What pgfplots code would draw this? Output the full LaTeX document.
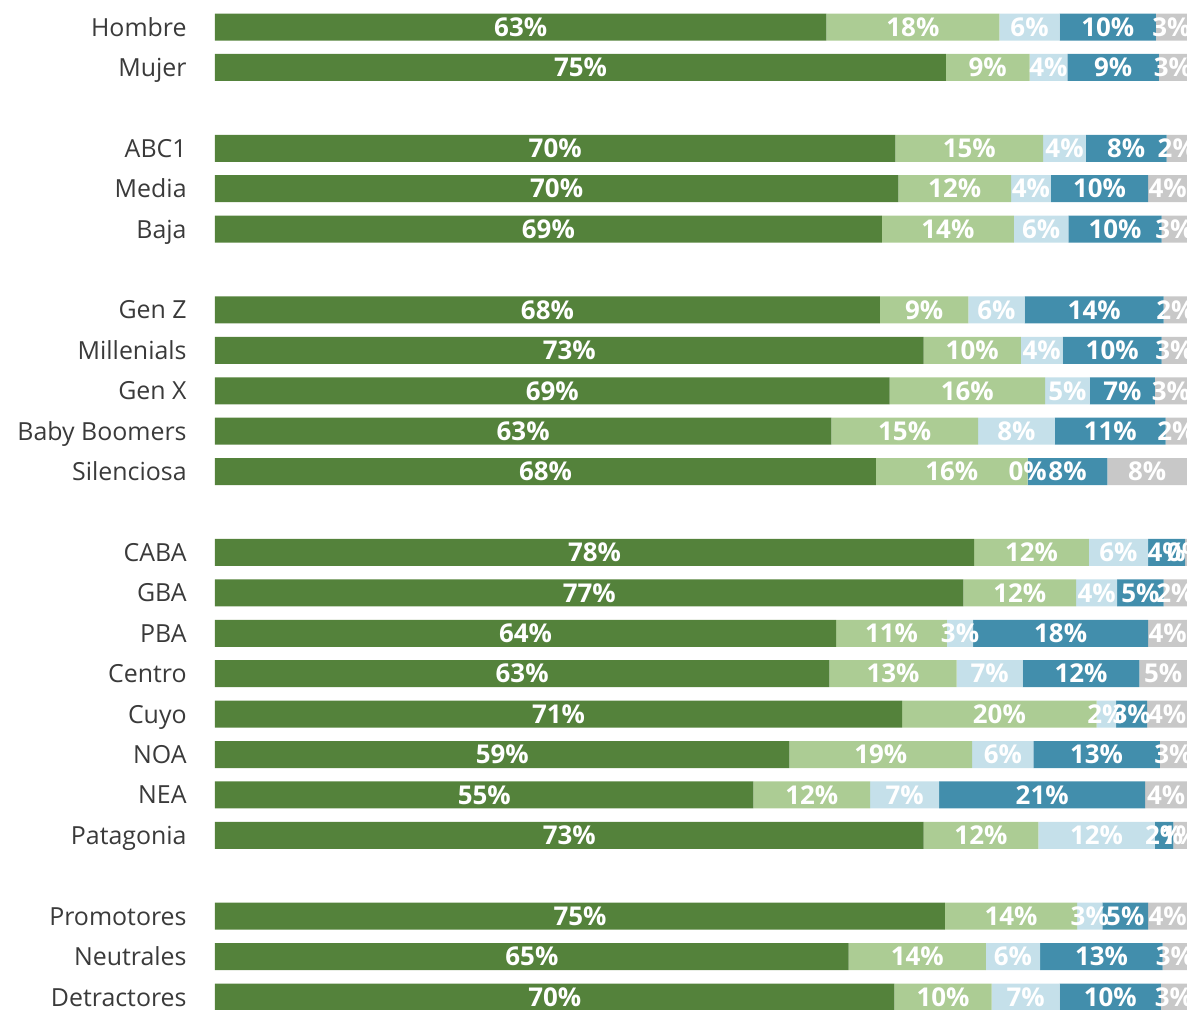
\documentclass[border=0pt]{standalone}
\usepackage{pgfplots}
\pgfplotsset{compat=1.18}
\usepackage{pgfplotstable}
\usepackage{fontspec}
\setmainfont{Open Sans}
\definecolor{cA}{RGB}{84,130,59}
\definecolor{cB}{RGB}{172,204,148}
\definecolor{cC}{RGB}{197,224,234}
\definecolor{cD}{RGB}{66,142,172}
\definecolor{cE}{RGB}{200,200,200}
\definecolor{lblgray}{RGB}{58,58,58}
\pgfplotstableread{
y a b c d e la lb lc ld le
0 62.9 17.8 6.2 9.9 3.2 63 18 6 10 3
1 75.2 8.6 3.9 9.4 2.9 75 9 4 9 3
3 70.0 15.2 4.4 8.3 2.1 70 15 4 8 2
4 70.3 11.6 4.1 10.0 4.0 70 12 4 10 4
5 68.6 13.6 5.6 9.6 2.6 69 14 6 10 3
7 68.4 9.1 5.8 14.3 2.4 68 9 6 14 2
8 72.9 10.0 4.3 10.2 2.6 73 10 4 10 3
9 69.4 16.0 4.6 6.7 3.3 69 16 5 7 3
10 63.4 15.1 7.9 11.4 2.2 63 15 8 11 2
11 68.0 15.6 0.01 8.2 8.19 68 16 0 8 8
13 78.1 11.8 6.1 3.8 0.2 78 12 6 4 0
14 77.0 11.6 4.2 4.8 2.4 77 12 4 5 2
15 63.9 11.4 2.7 18.0 4.0 64 11 3 18 4
16 63.2 13.1 6.8 12.0 4.9 63 13 7 12 5
17 70.7 20.0 2.0 3.2 4.1 71 20 2 3 4
18 59.1 18.8 6.3 13.0 2.8 59 19 6 13 3
19 55.4 12.0 7.1 21.2 4.3 55 12 7 21 4
20 72.9 11.8 12.0 1.9 1.4 73 12 12 2 1
22 75.1 13.6 2.6 4.7 4.0 75 14 3 5 4
23 65.2 14.1 5.6 12.6 2.5 65 14 6 13 3
24 69.9 10.0 7.0 10.4 2.7 70 10 7 10 3
}\data
\begin{document}
\begin{tikzpicture}
\begin{axis}[
  name=ax,
  xbar stacked,
  scale only axis,
  width=486bp, height=505bp,
  xmin=0, xmax=100,
  ymin=-0.668, ymax=24.32,
  y dir=reverse,
  bar width=13.5bp,
  axis line style={draw=none},
  xtick=\empty,
  ytick={0,1,3,4,5,7,8,9,10,11,13,14,15,16,17,18,19,20,22,23,24},
  yticklabels={Hombre,Mujer,ABC1,Media,Baja,Gen Z,Millenials,Gen X,Baby Boomers,Silenciosa,CABA,GBA,PBA,Centro,Cuyo,NOA,NEA,Patagonia,Promotores,Neutrales,Detractores},
  major tick length=0pt,
  yticklabel style={font=\fontsize{12.5}{14}\selectfont, text=lblgray, inner sep=0pt, xshift=-14bp, anchor=base east, yshift=-4.5bp},
  point meta=explicit symbolic,
  nodes near coords={\pgfplotspointmeta\%},
  every node near coord/.append style={font=\bfseries\fontsize{13}{15}\selectfont, text=white, anchor=center, inner sep=0pt},
  clip=false,
]
\addplot[fill=cA, draw=none] table[x=a, y=y, meta=la] {\data};
\addplot[fill=cB, draw=none] table[x=b, y=y, meta=lb] {\data};
\addplot[fill=cC, draw=none] table[x=c, y=y, meta=lc] {\data};
\addplot[fill=cD, draw=none] table[x=d, y=y, meta=ld] {\data};
\addplot[fill=cE, draw=none] table[x=e, y=y, meta=le] {\data};
\end{axis}
\pgfresetboundingbox
\path ([xshift=-107.5bp]ax.south west) rectangle (ax.north east);
\end{tikzpicture}
\end{document}
